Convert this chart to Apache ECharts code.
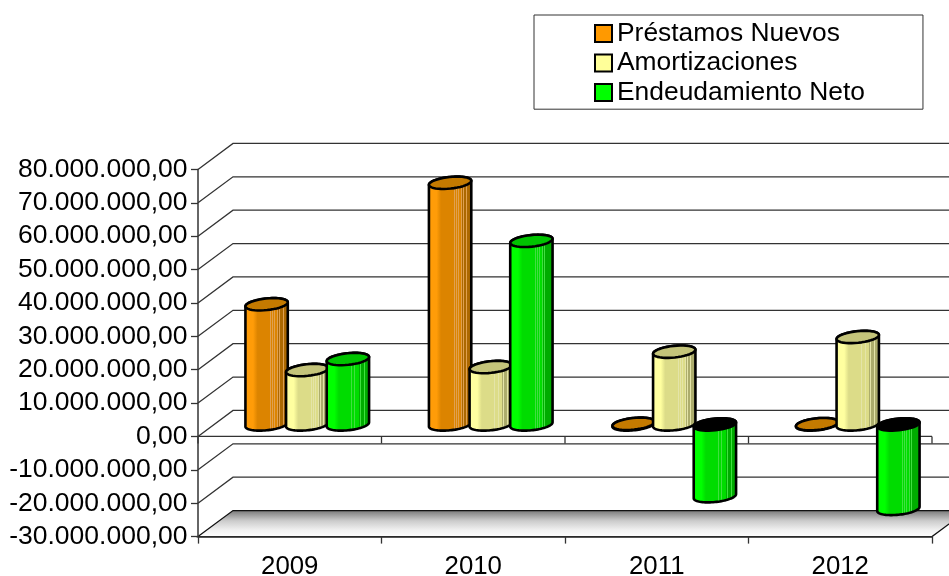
<!DOCTYPE html>
<html>
<head>
<meta charset="utf-8">
<style>html,body{margin:0;padding:0;background:#fff}#chart{width:949px;height:576px}</style>
<script src="https://cdn.jsdelivr.net/npm/echarts@6/dist/echarts.min.js"></script>
</head>
<body>
<div id="chart"></div>
<script>
let years = ['2009', '2010', '2011', '2012'];
let prestamos = [36000000, 72400000, 200000, 100000];
let amortizaciones = [16300000, 17200000, 21800000, 26200000];
let endeudamiento = [19600000, 55000000, -21500000, -25300000];
let yTicks = [-20000000, -10000000, 0, 10000000, 20000000, 30000000, 40000000, 50000000, 60000000, 70000000, 80000000];

// profundidad del grafico 3D
const DX = 35, DY = -26;
const FONT = '"Liberation Sans", Arial, sans-serif';
const TILT = -6 * Math.PI / 180;

function fmt(v) {
    let s = Math.abs(v).toString().replace(/\B(?=(\d{3})+$)/g, '.');
    return (v < 0 ? '-' : '') + s + ',00';
}

// gradiente horizontal con las bandas claras del cilindro
function barFill(c1, c2, c3, stripe) {
    let stops = [
        {offset: 0, color: c1},
        {offset: 0.2, color: c1},
        {offset: 0.3, color: c2},
        {offset: 0.58, color: c2}
    ];
    [0.58, 0.63, 0.67, 0.74, 0.78, 0.86].forEach((o, i) => {
        let base = o < 0.7 ? c2 : c3;
        stops.push({offset: o, color: stripe});
        stops.push({offset: o + 0.018, color: stripe});
        stops.push({offset: o + 0.018, color: base});
        stops.push({offset: (i < 5 ? [0.63, 0.67, 0.74, 0.78, 0.86][i] : 1), color: base});
    });
    return new echarts.graphic.LinearGradient(0, 0, 1, 0, stops);
}

function ellipsePts(cx, cy, a, b, from, to) {
    let pts = [];
    for (let i = 0; i <= 40; i++) {
        let t = from + (to - from) * i / 40;
        pts.push([
            cx + a * Math.cos(t) * Math.cos(TILT) - b * Math.sin(t) * Math.sin(TILT),
            cy + a * Math.cos(t) * Math.sin(TILT) + b * Math.sin(t) * Math.cos(TILT)
        ]);
    }
    return pts;
}

function cylinder(slot, fill, topColor) {
    return function (params, api) {
        let v = api.value(1);
        let band = api.size([1, 0])[0];
        let p0 = api.coord([api.value(0), 0]);
        let p1 = api.coord([api.value(0), v]);
        let cx = p0[0] + DX / 2 + slot * band * 0.2215;
        let a = band * 0.116, b = 5.8;
        let topY = Math.min(p0[1], p1[1]) + DY / 2 + 1;
        let botY = Math.max(p0[1], p1[1]) + DY / 2 + 1;
        let t0 = Math.atan(-(b / a) * Math.tan(TILT));
        let body = ellipsePts(cx, botY, a, b, t0, t0 + Math.PI)
            .concat(ellipsePts(cx, topY, a, b, t0 + Math.PI, t0 + 2 * Math.PI));
        let line = {stroke: '#000', lineWidth: 2.6, lineJoin: 'round'};
        return {
            type: 'group',
            children: [
                {type: 'polygon', shape: {points: body}, style: Object.assign({fill: fill}, line)},
                {
                    type: 'polygon',
                    shape: {points: ellipsePts(cx, topY, a, b, 0, 2 * Math.PI)},
                    style: Object.assign({fill: v < 0 ? '#000' : topColor}, line)
                }
            ]
        };
    };
}

function wallLine(params, api) {
    let v = api.value(1);
    let g = params.coordSys;
    let y = api.coord([0, v])[1];
    let lineStyle = {stroke: '#333', lineWidth: 1.3, fill: null};
    let children = [{
        type: 'polyline',
        shape: {points: [[g.x, y], [g.x + DX, y + DY], [g.x + g.width + DX, y + DY]]},
        style: lineStyle
    }];
    if (v === 0) {
        // plano del cero con sus marcas
        children.push({type: 'line', shape: {x1: g.x, y1: y, x2: g.x + g.width, y2: y}, style: lineStyle});
        for (let i = 0; i <= years.length; i++) {
            let x = g.x + g.width * i / years.length;
            children.push({type: 'line', shape: {x1: x, y1: y, x2: x, y2: y + 7}, style: lineStyle});
        }
    }
    return {type: 'group', children: children};
}

function floor(params, api) {
    let g = params.coordSys;
    let y = api.coord([0, api.value(1)])[1];
    return {
        type: 'polygon',
        shape: {points: [[g.x, y], [g.x + DX, y + DY], [g.x + g.width + DX, y + DY], [g.x + g.width, y]]},
        style: {
            fill: new echarts.graphic.LinearGradient(0, 0, 0, 1, [
                {offset: 0, color: '#757575'},
                {offset: 0.4, color: '#cccccc'},
                {offset: 0.75, color: '#f2f2f2'},
                {offset: 1, color: '#ffffff'}
            ]),
            stroke: '#111',
            lineWidth: 1.3
        }
    };
}

function toData(list) {
    return list.map((v, i) => [i, v]);
}

let option = {
    animation: false,
    backgroundColor: '#fff',
    textStyle: {fontFamily: FONT},
    grid: {left: 198, right: 17, top: 169.4, bottom: 39.4, outerBoundsMode: 'none'},
    legend: {
        left: 534,
        top: 15,
        orient: 'vertical',
        align: 'left',
        padding: [4, 58, 2, 60],
        itemGap: 0.3,
        itemWidth: 17,
        itemHeight: 17,
        borderColor: '#333',
        borderWidth: 1,
        selectedMode: false,
        textStyle: {fontFamily: FONT, fontSize: 26.4, lineHeight: 27.2, padding: [2, 0, 0, 0], color: '#000'},
        data: [
            {name: 'Préstamos Nuevos', icon: 'rect', itemStyle: {color: '#ff9900', borderColor: '#000', borderWidth: 2}},
            {name: 'Amortizaciones', icon: 'rect', itemStyle: {color: '#ffff99', borderColor: '#000', borderWidth: 2}},
            {name: 'Endeudamiento Neto', icon: 'rect', itemStyle: {color: '#00ff00', borderColor: '#000', borderWidth: 2}}
        ]
    },
    xAxis: {
        type: 'category',
        data: years,
        z: 6,
        axisLine: {onZero: false, lineStyle: {color: '#333', width: 1.5}},
        axisTick: {show: true, length: 7, lineStyle: {color: '#333', width: 1.3}},
        axisLabel: {color: '#000', fontFamily: FONT, fontSize: 25.8, margin: 17},
        splitLine: {show: false}
    },
    yAxis: {
        type: 'value',
        min: -30000000,
        max: 80000000,
        interval: 10000000,
        z: 6,
        axisLine: {show: true, lineStyle: {color: '#333', width: 1.5}},
        axisTick: {show: true, length: 7, lineStyle: {color: '#333', width: 1.3}},
        axisLabel: {color: '#000', fontFamily: FONT, fontSize: 26.5, margin: 10.5, padding: [5, 0, 0, 0], formatter: fmt},
        splitLine: {show: false}
    },
    series: [
        {type: 'custom', silent: true, z: 2, data: yTicks.map(v => [0, v]), renderItem: wallLine},
        {type: 'custom', silent: true, z: 3, data: [[0, -30000000]], renderItem: floor},
        {
            name: 'Préstamos Nuevos', type: 'custom', z: 4, itemStyle: {color: '#ff9900'},
            data: toData(prestamos),
            renderItem: cylinder(-1, barFill('#ff9c08', '#dc8400', '#ac6800', '#e0a050'), '#c47a00')
        },
        {
            name: 'Amortizaciones', type: 'custom', z: 4, itemStyle: {color: '#ffff99'},
            data: toData(amortizaciones),
            renderItem: cylinder(0, barFill('#ffffa0', '#dcdc88', '#acac6c', '#e4e4a8'), '#c4c47a')
        },
        {
            name: 'Endeudamiento Neto', type: 'custom', z: 4, itemStyle: {color: '#00ff00'},
            data: toData(endeudamiento),
            renderItem: cylinder(1, barFill('#00ff00', '#00dc00', '#00ac00', '#40e040'), '#00c400')
        }
    ]
};

let chart = echarts.init(document.getElementById('chart'));
chart.setOption(option);
</script>
</body>
</html>
